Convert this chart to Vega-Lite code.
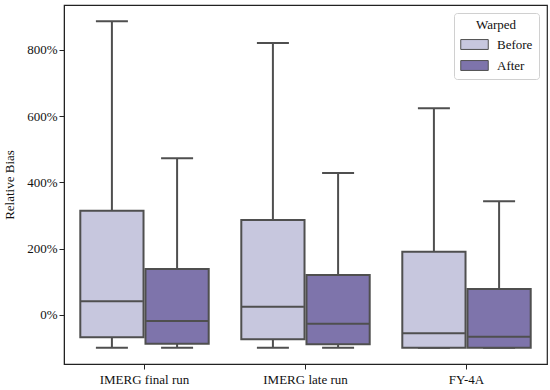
{
  "$schema": "https://vega.github.io/schema/vega-lite/v6.json",
  "width": 483,
  "height": 359,
  "autosize": {"type": "none"},
  "padding": {"left": 64, "top": 5, "right": 3, "bottom": 26},
  "config": {
    "font": "'Liberation Serif', 'Times New Roman', serif",
    "view": {"stroke": "#222", "strokeWidth": 1.2},
    "axis": {"labelFont": "'Liberation Serif', 'Times New Roman', serif", "titleFont": "'Liberation Serif', 'Times New Roman', serif", "labelFontSize": 13, "titleFontSize": 13, "labelColor": "#111", "titleColor": "#111", "titleFontWeight": "normal", "domainColor": "#222", "tickColor": "#222", "tickSize": 5, "grid": false},
    "legend": {"labelFont": "'Liberation Serif', 'Times New Roman', serif", "titleFont": "'Liberation Serif', 'Times New Roman', serif"}
  },
  "data": {
    "values": [
      {"product": "IMERG final run", "Warped": "Before", "min": -100, "q1": -68, "median": 41, "q3": 314, "max": 887},
      {"product": "IMERG final run", "Warped": "After", "min": -100, "q1": -88, "median": -19, "q3": 138, "max": 473},
      {"product": "IMERG late run", "Warped": "Before", "min": -100, "q1": -74, "median": 24, "q3": 286, "max": 821},
      {"product": "IMERG late run", "Warped": "After", "min": -100, "q1": -89, "median": -27, "q3": 120, "max": 428},
      {"product": "FY-4A", "Warped": "Before", "min": -100, "q1": -100, "median": -56, "q3": 190, "max": 624},
      {"product": "FY-4A", "Warped": "After", "min": -100, "q1": -100, "median": -67, "q3": 78, "max": 343}
    ]
  },
  "encoding": {
    "x": {"field": "product", "type": "nominal", "sort": ["IMERG final run", "IMERG late run", "FY-4A"], "scale": {"paddingInner": 0, "paddingOuter": 0}, "axis": {"title": null, "labelAngle": 0, "labelPadding": 4}},
    "xOffset": {"field": "Warped", "type": "nominal", "sort": ["Before", "After"], "scale": {"paddingOuter": 0.25, "paddingInner": 0.03}}
  },
  "layer": [
    {
      "mark": {"type": "rule", "color": "#4f4f4f", "strokeWidth": 2},
      "encoding": {
        "y": {"field": "min", "type": "quantitative", "scale": {"domain": [-149, 936], "nice": false, "zero": false}, "axis": {"title": "Relative Bias", "values": [0, 200, 400, 600, 800], "labelExpr": "datum.value + '%'", "titlePadding": 10}},
        "y2": {"field": "max"}
      }
    },
    {
      "mark": {"type": "tick", "color": "#4f4f4f", "thickness": 2, "size": 32, "opacity": 1},
      "encoding": {"y": {"field": "min", "type": "quantitative"}}
    },
    {
      "mark": {"type": "tick", "color": "#4f4f4f", "thickness": 2, "size": 32, "opacity": 1},
      "encoding": {"y": {"field": "max", "type": "quantitative"}}
    },
    {
      "mark": {"type": "bar", "stroke": "#4f4f4f", "strokeWidth": 2, "opacity": 1},
      "encoding": {
        "y": {"field": "q1", "type": "quantitative"},
        "y2": {"field": "q3"},
        "color": {
          "field": "Warped", "type": "nominal", "sort": ["Before", "After"],
          "scale": {"domain": ["Before", "After"], "range": ["#c7c7de", "#7e74ab"]},
          "legend": {
            "title": "Warped", "orient": "top-right", "offset": 8,
            "titleAnchor": "middle", "titleFontSize": 13, "titleFontWeight": "normal", "titleColor": "#111", "titlePadding": 6,
            "labelFontSize": 13, "labelColor": "#111",
            "fillColor": "white", "strokeColor": "#d0d0d0", "cornerRadius": 3, "padding": 6,
            "symbolType": "M-2.5,-0.9H2.5V0.9H-2.5Z", "symbolSize": 121, "symbolOffset": 8, "symbolStrokeColor": "#4f4f4f", "symbolStrokeWidth": 1, "symbolOpacity": 1,
            "rowPadding": 6, "labelOffset": 16
          }
        }
      }
    },
    {
      "mark": {"type": "tick", "color": "#4f4f4f", "thickness": 2, "size": 62, "opacity": 1},
      "encoding": {"y": {"field": "median", "type": "quantitative"}}
    }
  ]
}
